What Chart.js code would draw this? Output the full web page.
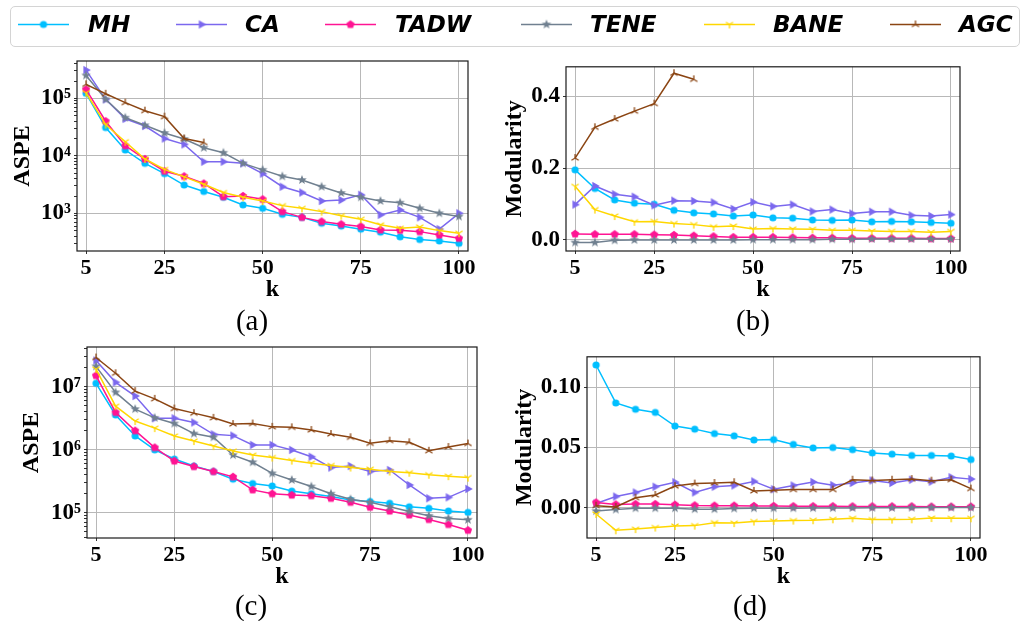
<!DOCTYPE html>
<html><head><meta charset="utf-8">
<script src="https://cdn.jsdelivr.net/npm/chart.js@4/dist/chart.umd.min.js"></script>
<style>
html,body{margin:0;padding:0;background:#fff}
body{width:1025px;height:621px;overflow:hidden;position:relative}
canvas.cv{position:absolute}
#legendBox{position:absolute;left:10px;top:6px;width:1010px;height:41px;border:1px solid #d4d4d4;border-radius:5px;box-sizing:border-box}
.lt{position:absolute;top:13px;font:italic bold 23px "DejaVu Sans";line-height:23px;color:#000;white-space:nowrap}
.cap{position:absolute;font:29px "Liberation Serif";line-height:29px;width:80px;text-align:center;color:#000}
</style></head>
<body>
<div id="legendBox"></div>
<canvas id="legendCv" class="cv" width="1025" height="50" style="left:0;top:0"></canvas>
<canvas id="ca" class="cv"></canvas>
<canvas id="cb" class="cv"></canvas>
<canvas id="cc" class="cv"></canvas>
<canvas id="cd" class="cv"></canvas>
<script>
// ---------------- DATA ----------------
const k = [5,10,15,20,25,30,35,40,45,50,55,60,65,70,75,80,85,90,95,100];
const kTicks = [5,25,50,75,100];
const seriesNames = ['MH','CA','TADW','TENE','BANE','AGC'];

// (a) ASPE, dataset 1
const aMH   = [1.22e5,3.1e4,1.26e4,7.4e3,4.9e3,3.1e3,2.4e3,1.9e3,1.4e3,1.22e3,960,850,670,600,530,470,390,350,330,300];
const aCA   = [3.1e5,9.6e4,4.4e4,3.3e4,2.0e4,1.58e4,7.9e3,7.9e3,7.4e3,4.9e3,2.9e3,2.3e3,1.64e3,1.7e3,2.1e3,940,1.14e3,850,530,1.0e3];
const aTADW = [1.43e5,4.0e4,1.5e4,8.8e3,5.4e3,4.4e3,3.3e3,1.95e3,2.0e3,1.75e3,1.07e3,850,720,645,590,515,505,480,420,367];
const aTENE = [2.5e5,9.6e4,4.6e4,3.4e4,2.5e4,1.96e4,1.38e4,1.13e4,7.4e3,5.7e3,4.4e3,3.8e3,2.9e3,2.26e3,1.9e3,1.64e3,1.53e3,1.22e3,1.0e3,880];
const aBANE = [1.25e5,3.5e4,1.76e4,8.8e3,5.8e3,4.3e3,3.2e3,2.3e3,1.9e3,1.64e3,1.36e3,1.22e3,1.07e3,910,790,630,550,580,500,450];
const aAGC  = [1.75e5,1.2e5,8.4e4,6.1e4,4.8e4,2.0e4,1.7e4];
const aTicks = [1e3,1e4,1e5];
const aTickLabels = ['10³','10⁴','10⁵'];

// (b) Modularity, dataset 1
const bMH   = [0.195,0.143,0.111,0.102,0.099,0.082,0.075,0.072,0.066,0.069,0.061,0.060,0.055,0.054,0.055,0.050,0.051,0.050,0.048,0.046];
const bCA   = [0.098,0.150,0.127,0.120,0.096,0.109,0.108,0.104,0.086,0.105,0.093,0.098,0.079,0.084,0.073,0.078,0.078,0.068,0.066,0.070];
const bTADW = [0.016,0.015,0.015,0.015,0.014,0.013,0.011,0.009,0.007,0.007,0.007,0.006,0.005,0.005,0.004,0.004,0.004,0.004,0.003,0.003];
const bTENE = [-0.008,-0.008,-0.002,-0.001,-0.001,-0.001,-0.001,-0.001,-0.001,0,0,0,0,0.001,0.001,0.002,0.002,0.002,0.002,0.002];
const bBANE = [0.149,0.084,0.066,0.050,0.051,0.045,0.042,0.036,0.038,0.030,0.031,0.030,0.029,0.026,0.026,0.024,0.023,0.023,0.021,0.023];
const bAGC  = [0.228,0.314,0.337,0.359,0.380,0.465,0.448];
const bTicks = [0,0.2,0.4];
const bTickLabels = ['0.0','0.2','0.4'];

// (c) ASPE, dataset 2
const cMH   = [1.13e7,3.55e6,1.65e6,9.9e5,7.1e5,5.5e5,4.5e5,3.4e5,2.9e5,2.65e5,2.2e5,2.0e5,1.8e5,1.59e5,1.5e5,1.41e5,1.24e5,1.17e5,1.06e5,1.01e5];
const cCA   = [2.6e7,1.17e7,7.1e6,3.15e6,3.15e6,2.7e6,1.75e6,1.67e6,1.19e6,1.19e6,9.9e5,7.7e5,5.2e5,5.5e5,4.5e5,4.75e5,2.75e5,1.69e5,1.75e5,2.38e5];
const cTADW = [1.5e7,3.9e6,2.0e6,1.08e6,6.6e5,5.4e5,4.5e5,3.7e5,2.3e5,2.0e5,1.9e5,1.86e5,1.69e5,1.46e5,1.22e5,1.06e5,9.2e4,7.8e4,6.5e4,5.25e4];
const cTENE = [2.1e7,8.1e6,4.4e6,3.2e6,2.6e6,1.8e6,1.57e6,8.2e5,6.3e5,4.2e5,3.3e5,2.6e5,2.0e5,1.63e5,1.46e5,1.24e5,1.04e5,8.9e4,8.1e4,7.7e4];
const cBANE = [1.9e7,4.9e6,2.85e6,2.2e6,1.65e6,1.37e6,1.14e6,9.5e5,8.2e5,7.5e5,6.7e5,6.1e5,5.6e5,5.2e5,4.9e5,4.5e5,4.3e5,4.0e5,3.8e5,3.6e5];
const cAGC  = [2.9e7,1.63e7,8.5e6,6.4e6,4.5e6,3.8e6,3.2e6,2.55e6,2.6e6,2.3e6,2.26e6,2.05e6,1.77e6,1.57e6,1.26e6,1.39e6,1.31e6,9.6e5,1.1e6,1.25e6];
const cTicks = [1e5,1e6,1e7];
const cTickLabels = ['10⁵','10⁶','10⁷'];

// (d) Modularity, dataset 2
const dMH   = [0.1187,0.0871,0.0818,0.0792,0.0679,0.0653,0.0616,0.0597,0.0563,0.0566,0.0526,0.0497,0.0500,0.0482,0.0455,0.0445,0.0434,0.0434,0.0429,0.0400];
const dCA   = [0.0034,0.0092,0.0126,0.0174,0.0211,0.0126,0.0174,0.0184,0.0218,0.0153,0.0184,0.0213,0.0187,0.0205,0.0226,0.0205,0.0232,0.0216,0.0253,0.0237];
const dTADW = [0.0042,0.0026,0.0029,0.0029,0.0024,0.0018,0.0016,0.0016,0.0013,0.0013,0.0011,0.0011,0.0011,0.0010,0.0010,0.0010,0.0010,0.0008,0.0008,0.0008];
const dTENE = [-0.0029,-0.0016,-0.0005,-0.0005,-0.0005,-0.0013,-0.0013,-0.0008,-0.0005,-0.0005,-0.0005,-0.0004,-0.0004,-0.0003,-0.0002,-0.0002,-0.0001,0,0,0];
const dBANE = [-0.0053,-0.0189,-0.0179,-0.0166,-0.0153,-0.0150,-0.0126,-0.0129,-0.0116,-0.0111,-0.0108,-0.0105,-0.0097,-0.0089,-0.0100,-0.0100,-0.0097,-0.0087,-0.0089,-0.0089];
const dAGC  = [0.0016,0.0005,0.0082,0.0105,0.0179,0.0200,0.0205,0.0211,0.0139,0.0145,0.0150,0.0150,0.0150,0.0232,0.0226,0.0232,0.0237,0.0224,0.0232,0.0158];
const dTicks = [0,0.05,0.10];
const dTickLabels = ['0.00','0.05','0.10'];

// ---------------- STYLE ----------------
const colors = ['#00BFFF','#7B68EE','#FF1493','#708090','#FFD700','#8B4513'];
const shapes = ['circle','triRight','pentagon','star','triDown','triUp'];
const SERIF = '"Liberation Serif","Times New Roman",serif';

function makeMarker(shape, color){
  const s = 14, c = document.createElement('canvas');
  c.width = s; c.height = s;
  const g = c.getContext('2d');
  g.translate(s/2, s/2);
  g.fillStyle = color; g.strokeStyle = color; g.lineWidth = 1.3;
  g.beginPath();
  if (shape === 'circle') { g.arc(0,0,3.6,0,Math.PI*2); g.fill(); }
  else if (shape === 'triRight') { g.moveTo(4.8,0); g.lineTo(-2.6,-4.3); g.lineTo(-2.6,4.3); g.closePath(); g.fill(); }
  else if (shape === 'pentagon') {
    for (let i=0;i<5;i++){ const a=-Math.PI/2+i*2*Math.PI/5; const x=4.3*Math.cos(a), y=4.3*Math.sin(a); i?g.lineTo(x,y):g.moveTo(x,y); }
    g.closePath(); g.fill();
  } else if (shape === 'star') {
    for (let i=0;i<10;i++){ const r = i%2?2.1:5; const a=-Math.PI/2+i*Math.PI/5; const x=r*Math.cos(a), y=r*Math.sin(a); i?g.lineTo(x,y):g.moveTo(x,y); }
    g.closePath(); g.fill();
  } else if (shape === 'triDown') {
    g.moveTo(0,0); g.lineTo(0,4); g.moveTo(0,0); g.lineTo(-3.6,-2.2); g.moveTo(0,0); g.lineTo(3.6,-2.2); g.stroke();
  } else if (shape === 'triUp') {
    g.moveTo(0,0); g.lineTo(0,-4); g.moveTo(0,0); g.lineTo(-3.6,2.2); g.moveTo(0,0); g.lineTo(3.6,2.2); g.stroke();
  }
  return c;
}
const markers = shapes.map((s,i)=>makeMarker(s, colors[i]));

// legend (glyphs on canvas, text as HTML)
const legendLineX = [18,176,325,521,704,890];
const legendTextX = [88,245,395,590,773,959];
(function(){
  const g = document.getElementById('legendCv').getContext('2d');
  seriesNames.forEach((n,i)=>{
    const x1 = legendLineX[i], x2 = x1+51, y = 24.5;
    g.strokeStyle = colors[i]; g.lineWidth = 1.6;
    g.beginPath(); g.moveTo(x1,y); g.lineTo(x2,y); g.stroke();
    g.drawImage(markers[i], (x1+x2)/2-7, y-7);
    const sp = document.createElement('div');
    sp.className = 'lt'; sp.textContent = n; sp.style.left = legendTextX[i]+'px';
    document.body.appendChild(sp);
  });
})();

const framePlugin = {
  id:'frame',
  afterDatasetsDraw(chart){
    const {ctx, chartArea:a} = chart;
    ctx.save(); ctx.strokeStyle='#1a1a1a'; ctx.lineWidth=1.2;
    ctx.strokeRect(a.left, a.top, a.right-a.left, a.bottom-a.top);
    ctx.restore();
  }
};

function logTickList(min, max){
  const out = [];
  for (let e=Math.floor(Math.log10(min)); e<=Math.ceil(Math.log10(max)); e++){
    for (let m=1;m<=9;m++){ const v = m*Math.pow(10,e); if (v>=min && v<=max) out.push(v); }
  }
  return out;
}

function makePanel(id, cv, area, yTitleX, yTitle, isLog, yMin, yMax, majorTicks, majorLabels, seriesList, caption, capPos){
  const el = document.getElementById(id);
  el.width = cv.w; el.height = cv.h;
  el.style.left = cv.l+'px'; el.style.top = cv.t+'px';
  const xH = 51;
  const yW = area.l - cv.l;
  const isMajor = v => majorTicks.some(m => Math.abs(m - v) <= Math.abs(m)*1e-9 + 1e-12);
  const majorIndex = v => majorTicks.findIndex(m => Math.abs(m - v) <= Math.abs(m)*1e-9 + 1e-12);
  const datasets = seriesList.map((vals,i)=>({
    label: seriesNames[i],
    data: vals.map((y,j)=>({x:k[j], y:y})),
    borderColor: colors[i], backgroundColor: colors[i],
    borderWidth: 1.5, pointStyle: markers[i], pointRadius: 3, pointHoverRadius: 3,
    order: seriesList.length - i, fill:false, tension:0
  }));
  new Chart(el, {
    type:'line',
    data:{datasets},
    plugins:[framePlugin],
    options:{
      responsive:false, animation:false, events:[], devicePixelRatio:1,
      layout:{autoPadding:false, padding:{top: area.t-cv.t, right: cv.l+cv.w-area.r, bottom: cv.t+cv.h-area.b-xH, left:0}},
      plugins:{legend:{display:false}, tooltip:{enabled:false}, title:{display:false}},
      scales:{
        x:{
          type:'linear', min:2.7, max:102.3,
          afterBuildTicks: s => { s.ticks = kTicks.map(v=>({value:v})); },
          afterFit: s => { s.height = xH; },
          ticks:{font:{family:SERIF, weight:'bold', size:22}, color:'#000', padding:1, maxRotation:0, autoSkip:false, callback: v => String(v)},
          grid:{color:'#b8b8b8', lineWidth:1, tickLength:3, tickColor:'#333'},
          border:{display:false},
          title:{display:true, text:'k', color:'#000', font:{family:SERIF, weight:'bold', size:24, lineHeight:1}, padding:{top:0,bottom:0}}
        },
        y:{
          type: isLog ? 'logarithmic' : 'linear', min:yMin, max:yMax,
          afterBuildTicks: s => { s.ticks = (isLog ? logTickList(yMin,yMax) : majorTicks).map(v=>({value:v})); },
          afterFit: s => { s.width = yW; },
          ticks:{
            font: c => ({family:SERIF, weight:'bold', size: (c.tick && isMajor(c.tick.value)) ? 23 : 1}),
            color:'#000', padding:3, autoSkip:false,
            callback: v => { const i = majorIndex(v); return i>=0 ? majorLabels[i] : ''; }
          },
          grid:{
            color: c => (c.tick && isMajor(c.tick.value)) ? '#b8b8b8' : 'rgba(0,0,0,0)',
            lineWidth:1, tickLength: 3, tickColor:'#333'
          },
          border:{display:false},
          title:{display:true, text:yTitle, color:'#000', font:{family:SERIF, weight:'bold', size:24, lineHeight:1}, padding:{top: yTitleX - cv.l - 12, bottom:0}}
        }
      }
    }
  });
  const cp = document.createElement('div');
  cp.className = 'cap'; cp.textContent = caption;
  cp.style.left = (capPos[0]-40)+'px'; cp.style.top = (capPos[1]-15)+'px';
  document.body.appendChild(cp);
}

makePanel('ca', {l:0,t:50,w:490,h:290}, {l:77,t:61,r:468,b:251}, 23, 'ASPE', true, 221, 4.46e5, aTicks, aTickLabels,
  [aMH,aCA,aTADW,aTENE,aBANE,aAGC], '(a)', [252,321]);
makePanel('cb', {l:490,t:50,w:535,h:290}, {l:566,t:61,r:960,b:251}, 515, 'Modularity', false, -0.0317, 0.483, bTicks, bTickLabels,
  [bMH,bCA,bTADW,bTENE,bBANE,bAGC], '(b)', [753,321]);
makePanel('cc', {l:0,t:340,w:500,h:281}, {l:87,t:347,r:477,b:538}, 32, 'ASPE', true, 3.96e4, 4.26e7, cTicks, cTickLabels,
  [cMH,cCA,cTADW,cTENE,cBANE,cAGC], '(c)', [251,606]);
makePanel('cd', {l:500,t:340,w:525,h:281}, {l:587,t:347,r:980,b:538}, 525, 'Modularity', false, -0.0253, 0.1255, dTicks, dTickLabels,
  [dMH,dCA,dTADW,dTENE,dBANE,dAGC], '(d)', [750,606]);
</script>
</body></html>
